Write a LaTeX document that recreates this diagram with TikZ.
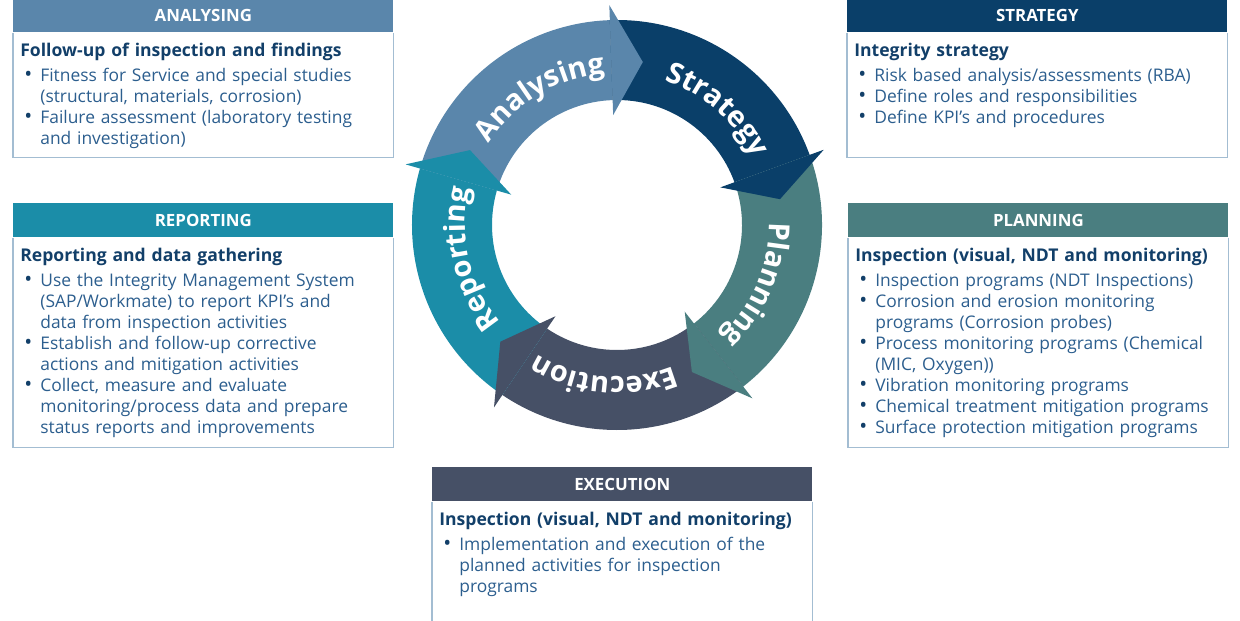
\documentclass[tikz,border=0pt]{standalone}
\usepackage{fontspec}
\setmainfont{Open Sans}
\usetikzlibrary{decorations.text}

\definecolor{anacol}{HTML}{5A86AB}
\definecolor{stracol}{HTML}{0A3F69}
\definecolor{plancol}{HTML}{4A7E80}
\definecolor{execol}{HTML}{465066}
\definecolor{repcol}{HTML}{1B8DA8}
\definecolor{titlecol}{HTML}{123F69}
\definecolor{bodycol}{HTML}{2C5E8E}
\definecolor{framecol}{HTML}{A3BDD2}

\newcommand\bitem[1]{\par\hangindent=0.4cm\hangafter=1\noindent
  \makebox[0.4cm][l]{\hspace{0.08cm}{\color{titlecol}\fontsize{12}{10}\selectfont\textbullet}}#1\par}
\newcommand\ringfont{\bfseries\fontsize{16.5}{20}\selectfont\color{white}}
\newcommand\boxtitle[1]{{\fontsize{10}{11.95}\selectfont\bfseries\color{titlecol}#1}\par\vspace{2.3pt}}

\tikzset{
  head/.style={fill=#1, text=white, font=\fontsize{9.6}{10}\selectfont\bfseries,
    minimum width=7.6cm, minimum height=0.68cm, anchor=north west, inner sep=0pt},
  frame/.style={draw=framecol, line width=0.6pt},
  txt/.style={anchor=north west, inner sep=0pt, text width=7.45cm, align=left,
    text=bodycol, font=\fontsize{9.9}{11.95}\selectfont},
}

\begin{document}
\begin{tikzpicture}
  \useasboundingbox (0,0) rectangle (24.8,12.4);

  % cycle of arrows
  \begin{scope}[shift={(12.34,7.9)}]
    \foreach \col/\s/\e in {anacol/164/92, stracol/92/20, plancol/20/-52, execol/-52/-124, repcol/-124/-196}
      \fill[\col] (\s:4.1) arc[start angle=\s, end angle=\e, radius=4.1]
        -- (\e:2.5) arc[start angle=\e, end angle=\s, radius=2.5] -- cycle;
    \foreach \col/\e in {anacol/92, stracol/20, plancol/-52, execol/-124, repcol/-196}
      \fill[\col] (\e:4.4) -- ({\e-11}:3.3) -- (\e:2.2) -- cycle;
    \path[decorate, decoration={text along path, text align=center, text={|\ringfont|Analysing}}]
      (156:3.04) arc[start angle=156, end angle=86, radius=3.04];
    \path[decorate, decoration={text along path, text align=center, text={|\ringfont|Strategy}}]
      (84:3.04) arc[start angle=84, end angle=14, radius=3.04];
    \path[decorate, decoration={text along path, text align=center, text={|\ringfont|Planning}}]
      (12:3.04) arc[start angle=12, end angle=-58, radius=3.04];
    \path[decorate, decoration={text along path, text align=center, text={|\ringfont|Execution}}]
      (-60:3.04) arc[start angle=-60, end angle=-130, radius=3.04];
    \path[decorate, decoration={text along path, text align=center, text={|\ringfont|Reporting}}]
      (-132:3.04) arc[start angle=-132, end angle=-202, radius=3.04];
  \end{scope}

  % boxes
  \node[head=anacol] (anahead) at (0.26,12.44) {ANALYSING};
  \draw[frame] (anahead.south west) -- ++(0,-2.5) -| (anahead.south east);
  \node[txt] (anatxt) at ([xshift=0.14cm,yshift=-0.2cm]anahead.south west) {%
    \boxtitle{Follow-up of inspection and findings}
    \bitem{Fitness for Service and special studies\newline (structural, materials, corrosion)}
    \bitem{Failure assessment (laboratory testing\newline and investigation)}};

  \node[head=stracol] (strahead) at (16.94,12.44) {STRATEGY};
  \draw[frame] (strahead.south west) -- ++(0,-2.5) -| (strahead.south east);
  \node[txt] (stratxt) at ([xshift=0.14cm,yshift=-0.2cm]strahead.south west) {%
    \boxtitle{Integrity strategy}
    \bitem{Risk based analysis/assessments (RBA)}
    \bitem{Define roles and responsibilities}
    \bitem{Define KPI’s and procedures}};

  \node[head=repcol] (rephead) at (0.26,8.34) {REPORTING};
  \draw[frame] (rephead.south west) -- ++(0,-4.19) -| (rephead.south east);
  \node[txt] (reptxt) at ([xshift=0.14cm,yshift=-0.2cm]rephead.south west) {%
    \boxtitle{Reporting and data gathering}
    \bitem{Use the Integrity Management System\newline (SAP/Workmate) to report KPI’s and\newline data from inspection activities}
    \bitem{Establish and follow-up corrective\newline actions and mitigation activities}
    \bitem{Collect, measure and evaluate\newline monitoring/process data and prepare\newline status reports and improvements}};

  \node[head=plancol] (planhead) at (16.96,8.34) {PLANNING};
  \draw[frame] (planhead.south west) -- ++(0,-4.19) -| (planhead.south east);
  \node[txt] (plantxt) at ([xshift=0.14cm,yshift=-0.2cm]planhead.south west) {%
    \boxtitle{Inspection (visual, NDT and monitoring)}
    \bitem{Inspection programs (NDT Inspections)}
    \bitem{Corrosion and erosion monitoring\newline programs (Corrosion probes)}
    \bitem{Process monitoring programs (Chemical\newline (MIC, Oxygen))}
    \bitem{Vibration monitoring programs}
    \bitem{Chemical treatment mitigation programs}
    \bitem{Surface protection mitigation programs}};

  \node[head=execol] (exehead) at (8.64,3.06) {EXECUTION};
  \draw[frame] (exehead.south west) -- ++(0,-2.6) (exehead.south east) -- ++(0,-2.6);
  \node[txt] (exetxt) at ([xshift=0.14cm,yshift=-0.2cm]exehead.south west) {%
    \boxtitle{Inspection (visual, NDT and monitoring)}
    \bitem{Implementation and execution of the\newline planned activities for inspection\newline programs}};
\end{tikzpicture}
\end{document}
